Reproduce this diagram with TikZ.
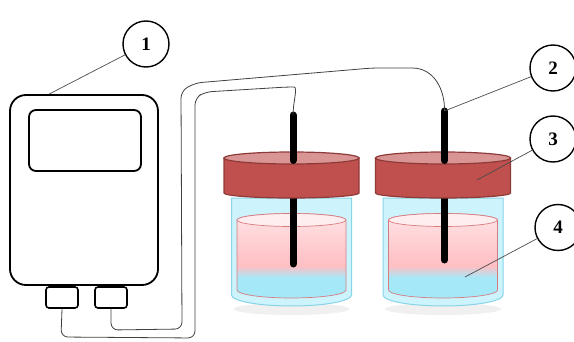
\documentclass[tikz,border=0pt]{standalone}
\usepackage{fontspec}
\setmainfont{Liberation Serif}
\usepackage{xcolor}

\definecolor{lidred}{HTML}{C0504D}
\definecolor{lidedge}{HTML}{8E3A38}
\definecolor{lidtop}{HTML}{D99594}
\definecolor{glass}{HTML}{CDF3FC}
\definecolor{glassedge}{HTML}{88D4E8}
\definecolor{liqblue}{HTML}{A5E9F9}
\definecolor{liqpink}{HTML}{FFBFC3}
\definecolor{liqtop}{HTML}{FFE3E6}
\definecolor{liqedge}{HTML}{D67C80}

% liquid: blue at the bottom, pink above
\pgfdeclareverticalshading{liquid}{100bp}{color(0bp)=(liqblue); color(37bp)=(liqblue);
  color(44bp)=(liqpink); color(75bp)=(liqtop); color(100bp)=(liqtop)}

\tikzstyle{numcircle}=[
    draw,
    circle,
    fill = white,
    line width = 1.4pt,
    minimum size = 46pt,
    inner sep = 0pt,
    font = \fontsize{19}{21}\selectfont\bfseries
]
\tikzstyle{meter}=[
    draw,
    rounded corners = 16pt,
    line width = 1.8pt,
    minimum width = 148pt,
    minimum height = 190pt,
    inner sep = 0pt
]
\tikzstyle{screen}=[
    draw,
    rounded corners = 7pt,
    line width = 1.8pt,
    minimum width = 112pt,
    minimum height = 61pt,
    inner sep = 0pt
]
\tikzstyle{plug}=[
    draw,
    rounded corners = 3pt,
    line width = 1.6pt,
    minimum width = 32pt,
    minimum height = 21pt,
    inner sep = 0pt
]
\tikzstyle{wire}=[draw = black!75, line width = 0.8pt, rounded corners = 7pt]
\tikzstyle{leader}=[draw = black!70, line width = 0.7pt]
\tikzstyle{electrode}=[line width = 7pt, line cap = round]

\begin{document}
\begin{tikzpicture}[x=1pt, y=1pt]
    \useasboundingbox (0, 0) rectangle (574, 341);

    % measuring unit
    \draw node [meter] (meter) at (84, 151) {};
    \draw node [screen] (screen) at (85, 200.5) {};
    \draw node [plug] (plugA) at (62, 43.5) {};
    \draw node [plug] (plugB) at (111, 43.5) {};

    % two jars with lids and electrodes
    \foreach \cx/\et/\eb/\n in {291.5/226/77/A, 443/230/81/B} {
        \begin{scope}[shift={(\cx, 0)}]
            \fill [black, opacity = 0.06] (0, 32) ellipse [x radius = 58, y radius = 6];
            \draw [glassedge, fill = glass, line width = 1pt]
                (-60, 143) -- (-60, 46) arc [start angle = 180, end angle = 360, x radius = 60, y radius = 11]
                -- (60, 143) -- cycle;
            \draw [liqedge, line width = 0.7pt, shading = liquid]
                (-54.5, 121) -- (-54.5, 51) arc [start angle = 180, end angle = 360, x radius = 54.5, y radius = 8]
                -- (54.5, 121) arc [start angle = 0, end angle = 180, x radius = 54.5, y radius = 6.5] -- cycle;
            \draw [liqedge, line width = 0.7pt, fill = liqtop!60!white] (0, 121) ellipse [x radius = 54.5, y radius = 6.5];
            \draw [electrode] (1.5, \eb) -- (1.5, 150);
            \draw [lidedge, fill = lidred, line width = 1.2pt]
                (-67.5, 183) -- (-67.5, 148) arc [start angle = 180, end angle = 360, x radius = 67.5, y radius = 5]
                -- (67.5, 183) -- cycle;
            \draw [lidedge, fill = lidtop, line width = 1.2pt] (0, 183) ellipse [x radius = 67.5, y radius = 6];
            \draw [electrode] (1.5, \et) -- (1.5, 180.5);
            \coordinate (e\n) at (1.5, \et);
        \end{scope}
    }

    % wires from the unit to the electrodes
    \draw [wire] (plugA.south) -- (61, 4) -- (195, 3) -- (195, 243) -- (205, 249) -- (287, 254)
        .. controls (298, 254) and (293, 238) .. (eA);
    \draw [wire] (plugB.south) -- (111, 11) -- (182, 12) -- (181, 250) -- (195, 258) -- (372, 273)
        -- (405, 273) .. controls (435, 273) and (445, 250) .. (eB);

    % numbered callouts
    \coordinate (lidpt) at (477, 161);
    \coordinate (liqpt) at (465, 64);
    \draw node [numcircle] (lab1) at (146, 297) {1};
    \draw node [numcircle] (lab2) at (553, 273) {2};
    \draw node [numcircle] (lab3) at (553, 202) {3};
    \draw node [numcircle] (lab4) at (558, 113.5) {4};

    \draw [leader] (lab1) -- (meter.110);
    \draw [leader] (lab2) -- (eB);
    \draw [leader] (lab3) -- (lidpt);
    \draw [leader] (lab4) -- (liqpt);
\end{tikzpicture}
\end{document}
